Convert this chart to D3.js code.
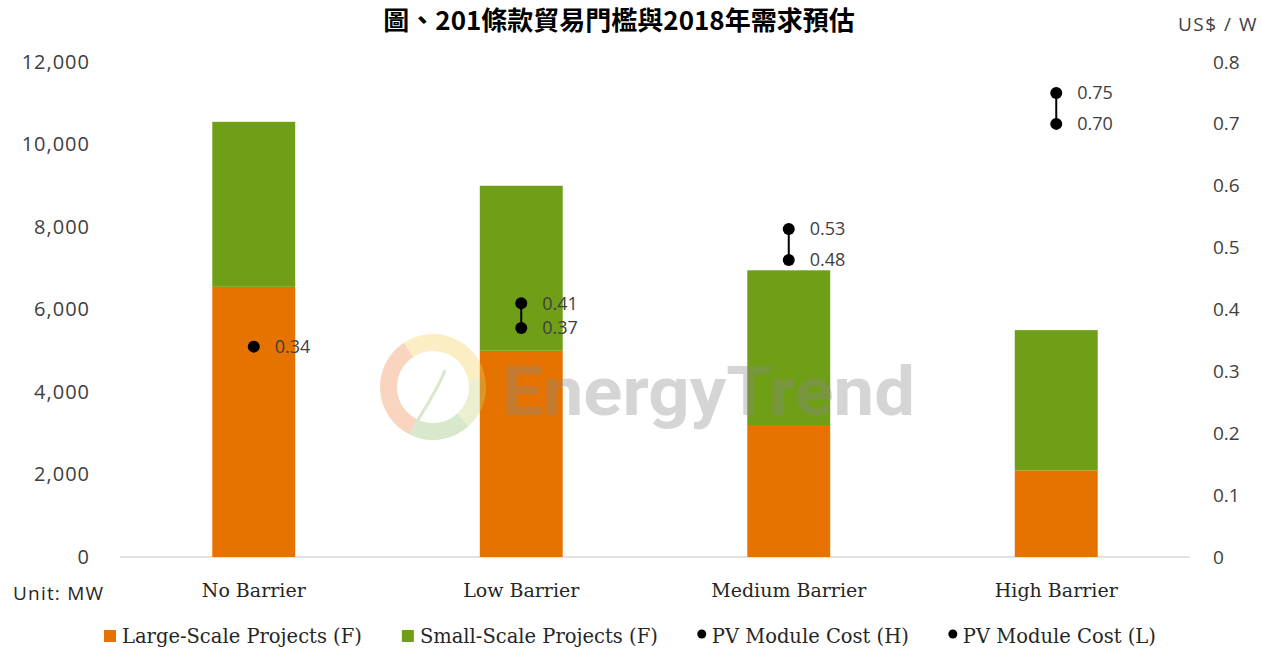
<!DOCTYPE html>
<html>
<head>
<meta charset="utf-8">
<script src="https://cdn.jsdelivr.net/npm/d3@7"></script>
<style>
  body { margin: 0; background: #fff; }
</style>
</head>
<body>
<div id="chart"></div>
<script>
// values
const categories = ["No Barrier", "Low Barrier", "Medium Barrier", "High Barrier"];
const largeScale = [6550, 5000, 3200, 2100];
const smallScale = [4000, 4000, 3750, 3400];
const costHigh = [0.34, 0.41, 0.53, 0.75];
const costLow = [0.34, 0.37, 0.48, 0.70];
const leftTicks = [0, 2000, 4000, 6000, 8000, 10000, 12000];
const rightTicks = [0, 0.1, 0.2, 0.3, 0.4, 0.5, 0.6, 0.7, 0.8];
const legendItems = ["Large-Scale Projects (F)", "Small-Scale Projects (F)", "PV Module Cost (H)", "PV Module Cost (L)"];

const width = 1261, height = 653;
const margin = { top: 62, right: 71, bottom: 96, left: 120 };
const orange = "#E67300", green = "#6F9F17";

const svg = d3.select("#chart").append("svg")
  .attr("width", width)
  .attr("height", height);

const x = d3.scaleBand()
  .domain(categories)
  .range([margin.left, width - margin.right])
  .paddingInner(0.69)
  .paddingOuter(0.345);

const y = d3.scaleLinear()
  .domain([0, 12000])
  .range([height - margin.bottom, margin.top]);

const y2 = d3.scaleLinear()
  .domain([0, 0.8])
  .range([height - margin.bottom, margin.top]);

// title
svg.append("text")
  .attr("x", 619)
  .attr("y", 30)
  .attr("text-anchor", "middle")
  .style("font", "bold 26px 'Noto Sans CJK TC'")
  .style("fill", "#000")
  .text("圖、201條款貿易門檻與2018年需求預估");

svg.append("text")
  .attr("x", 1178)
  .attr("y", 31)
  .style("font", "19px 'Open Sans'")
  .style("letter-spacing", "1.5px")
  .style("fill", "#404040")
  .text("US$ / W");

// left axis
const yAxis = svg.append("g")
  .attr("transform", `translate(${margin.left},0)`)
  .call(d3.axisLeft(y).tickValues(leftTicks).tickFormat(d3.format(",")).tickSize(0).tickPadding(30));
yAxis.select(".domain").remove();
yAxis.selectAll("text")
  .style("font", "20px 'Open Sans'")
  .style("letter-spacing", "1px")
  .style("fill", "#404040");

// right axis
const yAxis2 = svg.append("g")
  .attr("transform", `translate(${width - margin.right},0)`)
  .call(d3.axisRight(y2).tickValues(rightTicks)
    .tickFormat(d => d === 0 ? "0" : d3.format(".1f")(d)).tickSize(0).tickPadding(23));
yAxis2.select(".domain").remove();
yAxis2.selectAll("text")
  .style("font", "19px 'Open Sans'")
  .style("fill", "#404040");

// baseline
svg.append("line")
  .attr("x1", margin.left)
  .attr("x2", width - margin.right)
  .attr("y1", y(0))
  .attr("y2", y(0))
  .attr("stroke", "#d9d9d9")
  .attr("stroke-width", 1.5);

// category labels
svg.selectAll(".cat")
  .data(categories)
  .enter().append("text")
  .attr("class", "cat")
  .attr("x", d => x(d) + x.bandwidth() / 2)
  .attr("y", 597)
  .attr("text-anchor", "middle")
  .style("font", "19px 'DejaVu Serif'")
  .style("fill", "#262626")
  .text(d => d);

svg.append("text")
  .attr("x", 13)
  .attr("y", 600)
  .style("font", "19px 'Open Sans'")
  .style("letter-spacing", "1.2px")
  .style("fill", "#262626")
  .text("Unit: MW");

// stacked bars
svg.selectAll(".large")
  .data(categories)
  .enter().append("rect")
  .attr("class", "large")
  .attr("x", d => x(d))
  .attr("width", x.bandwidth())
  .attr("y", (d, i) => y(largeScale[i]))
  .attr("height", (d, i) => y(0) - y(largeScale[i]))
  .attr("fill", orange);

svg.selectAll(".small")
  .data(categories)
  .enter().append("rect")
  .attr("class", "small")
  .attr("x", d => x(d))
  .attr("width", x.bandwidth())
  .attr("y", (d, i) => y(largeScale[i] + smallScale[i]))
  .attr("height", (d, i) => y(largeScale[i]) - y(largeScale[i] + smallScale[i]))
  .attr("fill", green);

// watermark
const wm = svg.append("g").attr("opacity", 0.35);
const ring = d3.arc().innerRadius(36).outerRadius(53);
const ringParts = [
  { s: -0.6, e: 1.4, c: "#f5cf5a" },
  { s: 1.4, e: 2.4, c: "#c9d77a" },
  { s: 2.4, e: 3.6, c: "#8fc070" },
  { s: 3.6, e: 5.7, c: "#ee8a4a" }
];
wm.selectAll("path")
  .data(ringParts)
  .enter().append("path")
  .attr("transform", "translate(433,387)")
  .attr("d", d => ring({ startAngle: d.s, endAngle: d.e }))
  .attr("fill", d => d.c);
wm.append("path")
  .attr("d", "M415,425 C430,400 440,385 445,370")
  .attr("fill", "none")
  .attr("stroke", "#8fc070")
  .attr("stroke-width", 3);
wm.append("text")
  .attr("x", 502)
  .attr("y", 415)
  .attr("textLength", 413)
  .attr("lengthAdjust", "spacingAndGlyphs")
  .style("font", "bold 68px Roboto")
  .style("fill", "#888")
  .text("EnergyTrend");

// PV module cost range
const cost = svg.append("g");
cost.selectAll("line")
  .data(categories)
  .enter().append("line")
  .attr("x1", d => x(d) + x.bandwidth() / 2)
  .attr("x2", d => x(d) + x.bandwidth() / 2)
  .attr("y1", (d, i) => y2(costHigh[i]))
  .attr("y2", (d, i) => y2(costLow[i]))
  .attr("stroke", "#000")
  .attr("stroke-width", 2);

const dots = [];
categories.forEach((c, i) => {
  dots.push({ c: c, v: costHigh[i] });
  if (costLow[i] !== costHigh[i]) dots.push({ c: c, v: costLow[i] });
});

cost.selectAll("circle")
  .data(dots)
  .enter().append("circle")
  .attr("cx", d => x(d.c) + x.bandwidth() / 2)
  .attr("cy", d => y2(d.v))
  .attr("r", 6)
  .attr("fill", "#000");

cost.selectAll(".val")
  .data(dots)
  .enter().append("text")
  .attr("class", "val")
  .attr("x", d => x(d.c) + x.bandwidth() / 2 + 21)
  .attr("y", d => y2(d.v))
  .attr("dy", "0.35em")
  .style("font", "18px 'Open Sans'")
  .style("fill", "#404040")
  .text(d => d3.format(".2f")(d.v));

// legend
const legend = svg.append("g");
let lx = 104;
legendItems.forEach((name, i) => {
  const g = legend.append("g");
  if (i < 2) {
    g.append("rect")
      .attr("x", lx)
      .attr("y", 630)
      .attr("width", 12)
      .attr("height", 12)
      .attr("fill", i === 0 ? orange : green);
  } else {
    g.append("circle")
      .attr("cx", lx + 4)
      .attr("cy", 634)
      .attr("r", 4.5)
      .attr("fill", "#000");
  }
  const t = g.append("text")
    .attr("x", lx + (i < 2 ? 18 : 14))
    .attr("y", 643)
    .style("font", "19.5px 'DejaVu Serif'")
    .style("fill", "#262626")
    .text(name);
  lx += (i < 2 ? 18 : 14) + t.node().getComputedTextLength() + 40;
});
</script>
</body>
</html>
